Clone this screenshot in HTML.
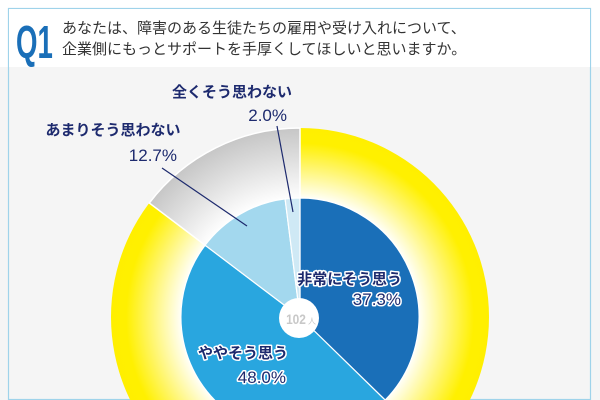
<!DOCTYPE html>
<html><head><meta charset="utf-8"><style>
html,body{margin:0;padding:0;background:#fff}
body{width:600px;height:400px;overflow:hidden;position:relative;font-family:"Liberation Sans","Noto Sans CJK JP",sans-serif}
</style></head><body>
<svg width="600" height="400" viewBox="0 0 600 400" xmlns="http://www.w3.org/2000/svg" style="position:absolute;left:0;top:0">
<defs>
<radialGradient id="yg" gradientUnits="userSpaceOnUse" cx="300" cy="317" r="189">
<stop offset="0.62" stop-color="#ffffff"/><stop offset="0.8" stop-color="#fff566"/><stop offset="0.92" stop-color="#fff000"/><stop offset="1" stop-color="#ffef00"/>
</radialGradient>
<radialGradient id="gg" gradientUnits="userSpaceOnUse" cx="300" cy="317" r="189">
<stop offset="0.62" stop-color="#ffffff"/><stop offset="0.85" stop-color="#dcdcdc"/><stop offset="1" stop-color="#c6c6c6"/>
</radialGradient>
</defs>
<rect x="0" y="67" width="600" height="333" fill="#f5f5f5"/>
<rect x="8.5" y="8.5" width="582" height="391" fill="none" stroke="#9fd3ea" stroke-width="1.2"/>
<rect x="9" y="9" width="581" height="58" fill="#fff"/>
<text x="0" y="0" font-weight="bold" font-size="46" fill="#1a6fb8" transform="translate(16,58) scale(0.6,1)">Q1</text>
<text x="62" y="33" font-size="15" fill="#333">あなたは、障害のある生徒たちの雇用や受け入れについて、</text>
<text x="62" y="54" font-size="15" fill="#333">企業側にもっとサポートを手厚くしてほしいと思いますか。</text>
<circle cx="300" cy="317" r="189" fill="url(#yg)"/>
<path d="M300,317 L149.3,203.0 A189,189 0 0 1 300,128 Z" fill="url(#gg)" stroke="#fff" stroke-width="1.5"/>
<path d="M300,317 L300,198 A119,119 0 0 1 385.2,400.1 Z" fill="#1a6fb8" stroke="#fff" stroke-width="1.2"/>
<path d="M300,317 L385.2,400.1 A119,119 0 0 1 205.1,245.2 Z" fill="#29a6df" stroke="#fff" stroke-width="1.2"/>
<path d="M300,317 L205.1,245.2 A119,119 0 0 1 285.1,198.9 Z" fill="#a3d8ee" stroke="#fff" stroke-width="1.2"/>
<path d="M300,317 L285.1,198.9 A119,119 0 0 1 300,198 Z" fill="#cfe9f5" stroke="#fff" stroke-width="1.2"/>
<circle cx="299" cy="318" r="20" fill="#fff"/>
<text x="296" y="324" font-size="14" font-weight="bold" fill="#c8c8c8" text-anchor="middle" transform="translate(296,0) scale(0.85,1) translate(-296,0)">102</text><text x="308" y="324" font-size="8" fill="#c8c8c8">人</text>
<g stroke="#1d2a6e" stroke-width="1.2"><line x1="277" y1="126" x2="293" y2="212"/><line x1="162" y1="168" x2="247" y2="226"/></g>
<g font-weight="bold" font-size="15" fill="#1d2a6e">
<text x="232" y="97" text-anchor="middle">全くそう思わない</text>
<text x="113" y="135" text-anchor="middle">あまりそう思わない</text>
</g>
<g font-size="17" fill="#1d2a6e">
<text x="287" y="121" text-anchor="end">2.0%</text>
<text x="177" y="161" text-anchor="end">12.7%</text>
</g>
<g font-weight="bold" font-size="15" fill="#1d2a6e" stroke="#fff" stroke-width="3" paint-order="stroke" stroke-linejoin="round">
<text x="402" y="284" text-anchor="end">非常にそう思う</text>
<text x="288" y="358" text-anchor="end">ややそう思う</text>
</g>
<g font-size="17" fill="#1d2a6e" stroke="#fff" stroke-width="3" paint-order="stroke" stroke-linejoin="round">
<text x="401" y="305" text-anchor="end">37.3%</text>
<text x="286" y="383" text-anchor="end">48.0%</text>
</g>
</svg>
</body></html>
